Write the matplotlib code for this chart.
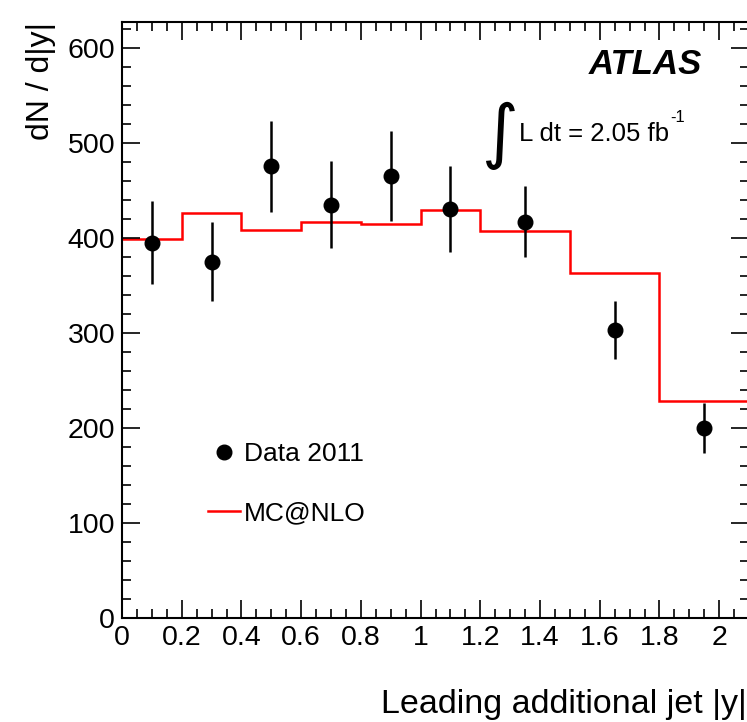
import matplotlib
matplotlib.use("Agg")
import matplotlib.pyplot as plt
from matplotlib.ticker import MultipleLocator
from matplotlib.lines import Line2D
import numpy as np

# Data
data_x = [0.1, 0.3, 0.5, 0.7, 0.9, 1.1, 1.35, 1.65, 1.95]
data_y = [395, 375, 475, 435, 465, 430, 417, 303, 200]
data_err = [44, 42, 48, 46, 47, 45, 37, 31, 26]

mc_edges = [0.0, 0.2, 0.4, 0.6, 0.8, 1.0, 1.2, 1.5, 1.8, 2.1]
mc_vals = [399, 426, 408, 417, 414, 429, 407, 363, 228]

plt.rcParams['font.family'] = ['Liberation Sans', 'DejaVu Sans']

fig = plt.figure(figsize=(7.47, 7.22), dpi=100)
ax = fig.add_axes([122/747, 104/722, (749-122)/747, (618-22)/722])

# MC histogram
ax.stairs(mc_vals, mc_edges, color='#ff0000', linewidth=1.8, baseline=None)

# Data
ax.errorbar(data_x, data_y, yerr=data_err, fmt='o', color='black',
            markersize=10.5, elinewidth=1.8, capsize=0)

ax.set_xlim(0, 2.1)
ax.set_ylim(0, 627)

ax.xaxis.set_major_locator(MultipleLocator(0.2))
ax.xaxis.set_minor_locator(MultipleLocator(0.05))
ax.yaxis.set_major_locator(MultipleLocator(100))
ax.yaxis.set_minor_locator(MultipleLocator(20))
ax.set_xticks(np.arange(0, 2.01, 0.2))
ax.set_xticklabels(['0', '0.2', '0.4', '0.6', '0.8', '1', '1.2', '1.4', '1.6', '1.8', '2'])

ax.tick_params(which='both', direction='in', top=True, right=True, labelsize=20.5, width=1.2)
ax.tick_params(which='major', length=13)
ax.tick_params(which='minor', length=6.5)
ax.tick_params(axis='x', pad=5)
ax.tick_params(axis='y', pad=5)
for s in ax.spines.values():
    s.set_linewidth(1.5)

ax.set_ylabel('dN / d|y|', fontsize=23, loc='top', labelpad=8)
fig.text(747/747, 1 - 705/722, 'Leading additional jet |y|', fontsize=24.5,
         ha='right', va='center')

# Annotations
ax.text(0.925, 0.928, 'ATLAS', transform=ax.transAxes, fontsize=25,
        fontweight='bold', fontstyle='italic', ha='right', va='center')
ax.text(0.6, 0.81, r'$\int$', transform=ax.transAxes, fontsize=36,
        ha='center', va='center')
ax.text(0.633, 0.812, 'L dt = 2.05 fb', transform=ax.transAxes,
        fontsize=18.5, ha='left', va='center')
ax.text(0.875, 0.84, '-1', transform=ax.transAxes,
        fontsize=12, ha='left', va='center')

# Legend
handles = [Line2D([], [], marker='o', linestyle='none', color='black', markersize=10.5),
           Line2D([], [], color='#ff0000', linewidth=1.8)]
leg = ax.legend(handles, ['Data 2011', 'MC@NLO'], loc='upper left',
                bbox_to_anchor=(0.1, 0.335), frameon=False, fontsize=19,
                labelspacing=1.35, handlelength=1.2, handletextpad=0.15)

fig.savefig('out.png', dpi=100)
